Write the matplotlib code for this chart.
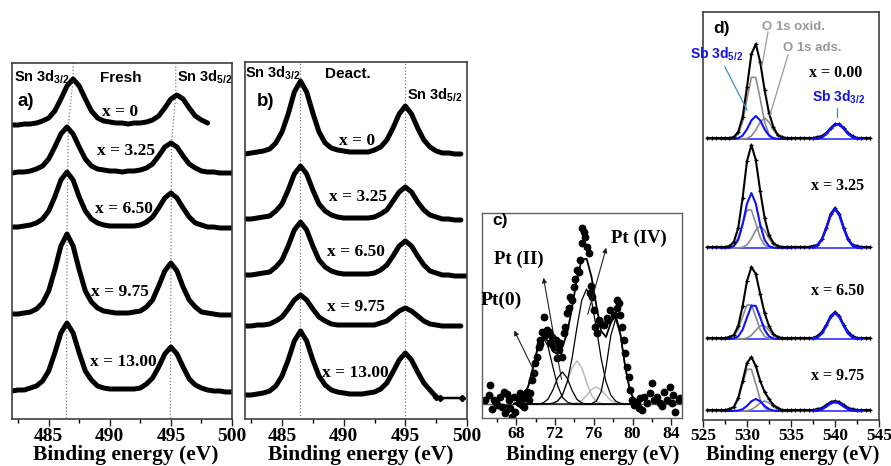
import numpy as np
import matplotlib
matplotlib.use("Agg")
import matplotlib.pyplot as plt
from matplotlib.ticker import MultipleLocator
from matplotlib.lines import Line2D

plt.rcParams['mathtext.fontset'] = 'custom'
plt.rcParams['mathtext.rm'] = 'Liberation Sans:bold'
plt.rcParams['mathtext.it'] = 'Liberation Sans:bold'
plt.rcParams['mathtext.bf'] = 'Liberation Sans:bold'
plt.rcParams['mathtext.sf'] = 'Liberation Sans:bold'
plt.rcParams['mathtext.default'] = 'rm'

# ---------------- data: panel a (Fresh) ----------------
E_ab = np.arange(482.0, 500.01, 0.5)
a_labels = ['x = 0', 'x = 3.25', 'x = 6.50', 'x = 9.75', 'x = 13.00']
a_offsets = [293, 245, 190, 102, 26]
a1 = [1, 1, 2, 2, 3, 5, 8, 15, 27, 40, 47, 40, 27, 15, 8, 5, 4, 3, 3, 2,
      3, 3, 4, 6, 10, 18, 27, 31, 27, 18, 10, 6, 3]
a2 = [1, 2, 2, 3, 5, 8, 15, 27, 40, 47, 40, 27, 15, 8, 5, 4, 3, 3, 2, 3,
      3, 4, 6, 10, 18, 27, 31, 27, 18, 10, 6, 3, 2, 2, 1, 1, 1]
a3 = [2, 2, 3, 4, 6, 10, 18, 32, 49, 57, 49, 32, 18, 10, 6, 4, 3, 3, 3, 3,
      3, 4, 7, 12, 21, 31, 36, 31, 21, 12, 6, 4, 2, 2, 1, 1, 1]
a4 = [3, 3, 4, 5, 8, 14, 26, 47, 71, 83, 71, 47, 26, 15, 9, 6, 5, 4, 4, 4,
      5, 6, 10, 17, 31, 46, 54, 46, 30, 17, 10, 5, 4, 3, 2, 2, 2]
a5 = [2, 3, 3, 5, 7, 12, 22, 40, 60, 70, 60, 40, 22, 13, 7, 5, 4, 4, 4, 4,
      4, 5, 9, 15, 26, 39, 46, 39, 26, 14, 8, 5, 3, 2, 2, 1, 1]
a_curves = [a1, a2, a3, a4, a5]
a_label_pos = [(120, 112), (126, 151), (124, 209), (120, 292), (123, 362)]
a_guide_left_E = [487.0, 487.0, 486.6, 486.5, 486.45]
a_guide_left_I = [356, 340, 292, 180, 0]
a_guide_right_E = [495.4, 495.4, 495.05, 494.95]
a_guide_right_I = [356, 324, 276, 0]

# ---------------- data: panel b (Deact.) ----------------
b_labels = ['x = 0', 'x = 3.25', 'x = 6.50', 'x = 9.75', 'x = 13.00']
b_offsets = [263, 198, 142, 92, 22]
b1 = [2, 3, 4, 5, 7, 13, 24, 42, 64, 75, 64, 43, 24, 13, 8, 6, 5, 4, 4, 4,
      4, 6, 9, 16, 28, 42, 50, 42, 28, 16, 9, 5, 3, 3, 2, 2]
b2 = [2, 2, 3, 4, 5, 10, 17, 31, 47, 55, 47, 31, 17, 10, 6, 4, 3, 3, 3, 3,
      3, 4, 7, 11, 20, 29, 34, 29, 19, 11, 6, 4, 2, 2, 1, 1]
b3 = [2, 2, 3, 4, 5, 10, 17, 31, 47, 55, 47, 31, 17, 10, 6, 4, 3, 3, 3, 3,
      3, 4, 7, 12, 21, 31, 36, 31, 21, 12, 6, 4, 2, 2, 1, 1, 1]
b4 = [1, 1, 2, 2, 3, 6, 10, 18, 27, 32, 27, 18, 10, 6, 3, 2, 2, 2, 2, 2,
      2, 2, 4, 6, 11, 16, 19, 16, 11, 6, 3, 2, 1, 1, 1, 1]
b5 = [2, 2, 3, 4, 6, 11, 21, 37, 56, 66, 56, 37, 21, 12, 7, 5, 4, 3, 3, 3,
      4, 5, 8, 14, 25, 37, 44, 37, 25, 14, 7, 0]
b5_tail_E = [497.8, 499.6]
b5_tail_I = [-1, -1]
b_curves = [b1, b2, b3, b4, b5]
b_label_pos = [(357, 141), (358, 197), (356, 252), (356, 307), (355, 373)]
b_guides_E = [486.45, 494.98]

# ---------------- data: panel c (Pt 4f) ----------------
c_grid = np.arange(67.75, 80.76, 0.5)
c_P0 = [0.4, 1.9, 6.8, 18.5, 37.8, 58.1, 67, 58.1, 37.8, 18.5, 6.8, 1.9, 0.4,
        0, 0, 0, 0, 0, 0, 0, 0, 0, 0, 0, 0, 0, 0]
c_P0b = [0, 0, 0, 0, 0, 0.2, 1.0, 4.7, 13.6, 25.8, 32, 25.8, 13.6, 4.7, 1.0,
         0.2, 0, 0, 0, 0, 0, 0, 0, 0, 0, 0, 0]
c_G1 = [0, 0, 0, 0, 0, 0, 0, 0, 0.6, 2.7, 9.0, 21.5, 36.2, 43, 36.2, 21.5,
        9.0, 2.7, 0.6, 0.1, 0, 0, 0, 0, 0, 0, 0]
c_Big = [0, 0, 0, 0, 0, 0, 0, 0.2, 0.7, 2.9, 8.9, 22.3, 45.8, 76.4, 103.8,
         115, 103.8, 76.4, 45.8, 22.3, 8.9, 2.9, 0.7, 0.2, 0, 0, 0]
c_G2 = [0, 0, 0, 0, 0, 0, 0, 0, 0, 0, 0, 0, 0.2, 1.1, 3.6, 8.5, 14.3, 17,
        14.3, 8.5, 3.6, 1.1, 0.2, 0, 0, 0, 0]
c_Last = [0, 0, 0, 0, 0, 0, 0, 0, 0, 0, 0, 0, 0, 0, 0, 0, 0.4, 2.8, 12.4,
          36.1, 68.6, 85, 68.6, 36.1, 12.4, 2.8, 0.4]
c_pts_E = [64.80, 65.14, 65.32, 65.66, 66.01, 66.35, 66.52, 66.69, 66.86, 67.04,
           67.21, 67.38, 67.55, 67.72, 67.90, 68.24, 68.41, 68.76, 68.93, 69.10,
           69.27, 69.44, 69.62, 69.79, 69.96, 70.13, 70.30, 70.48, 70.65, 70.82,
           70.99, 71.17, 71.34, 71.51, 71.68, 71.85, 72.02, 72.20, 72.37, 72.54,
           72.71, 72.88, 73.06, 73.23, 73.57, 73.74, 73.92, 74.26, 74.43, 74.60,
           74.78, 74.95, 75.12, 75.29, 75.46, 75.64, 75.81, 75.98, 76.15, 76.33,
           76.50, 76.67, 77.01, 77.36, 77.70, 78.04, 78.39, 78.56, 78.73, 78.91,
           79.08, 79.25, 79.42, 79.59, 79.76, 79.94, 80.11, 80.45, 80.62, 80.80,
           81.14, 81.49, 81.83, 82.00, 82.17, 82.52, 82.86, 83.20, 83.55, 83.89,
           84.06, 84.41, 84.75, 84.92, 74.80, 72.10, 75.70, 77.50, 78.40, 70.40,
           73.40, 74.10, 65.90, 66.90, 68.30, 68.60, 81.00, 83.00, 84.20, 65.50,
           67.00]
c_pts_I = [4, 9, 19, 4, -1, 7, -3, 12, -9, -4,
           4, -4, -13, 7, -8, 1, 11, -3, 6, 12,
           4, 11, 24, 31, 41, 47, 57, 64, 72, 87,
           69, 74, 72, 61, 67, 61, 57, 46, 54, 61,
           47, 71, 77, 91, 107, 104, 117, 134, 132, 144,
           161, 172, 167, 157, 151, 111, 107, 94, 77, 71,
           84, 81, 79, 86, 94, 89, 104, 101, 89, 77,
           64, 51, 37, 27, 14, 4, -1, 2, -4, 6,
           7, 1, 11, 21, 4, 7, 1, 12, 4, 17,
           1, -8, 4, 6, 176, 64, 118, 84, 96, 60,
           96, 125, 2, -6, 5, -1, -6, -2, 9, -5,
           10]
c_base = 14

# ---------------- data: panel d (O 1s / Sb 3d) ----------------
E_d = np.arange(525.5, 544.01, 0.5)
d_M = np.arange(527.0, 535.01, 0.5)
d_B = np.arange(537.5, 543.01, 0.5)
d_labels = ['x = 0.00', 'x = 3.25', 'x = 6.50', 'x = 9.75']
d_offsets = [281, 172, 81, 9]
d_data = [
    [1, 1, 1, 1, 1, 1, 2, 7, 22, 52, 85, 95, 77, 49, 26, 12, 4, 2, 1, 1,
     1, 1, 1, 1, 1, 2, 3, 6, 11, 15, 15, 11, 6, 3, 1, 1, 1, 1],
    [1, 1, 1, 1, 1, 2, 6, 20, 50, 87, 103, 88, 57, 30, 13, 5, 2, 1, 1, 1,
     1, 1, 1, 1, 2, 3, 9, 20, 34, 40, 34, 20, 9, 3, 2, 1, 1, 1],
    [1, 1, 1, 1, 1, 2, 4, 13, 33, 58, 72, 65, 45, 26, 13, 5, 2, 1, 1, 1,
     1, 1, 1, 1, 1, 3, 7, 14, 23, 27, 23, 14, 7, 3, 1, 1, 1, 1],
    [1, 1, 1, 1, 1, 2, 4, 13, 30, 48, 54, 45, 30, 19, 12, 6, 3, 1, 1, 1,
     1, 1, 1, 1, 1, 2, 3, 6, 9, 10, 9, 6, 3, 2, 1, 1, 1, 1],
]
d_oxid = [
    [0, 0, 0.1, 0.8, 4.7, 17.0, 40.2, 61.6, 61.6, 40.2, 17.0, 4.7, 0.8, 0.1, 0, 0, 0],
    [0, 0.1, 0.5, 2.9, 10.5, 24.7, 37.9, 37.9, 24.7, 10.5, 2.9, 0.5, 0.1, 0, 0, 0, 0],
    [0, 0.1, 0.5, 2.6, 9.4, 22.2, 34.1, 34.1, 22.2, 9.4, 2.6, 0.5, 0.1, 0, 0, 0, 0],
    [0, 0.1, 0.6, 3.2, 11.5, 27.2, 41.7, 41.7, 27.2, 11.5, 3.2, 0.6, 0.1, 0, 0, 0, 0],
]
d_sb52 = [
    [0, 0, 0, 0.1, 0.8, 3.4, 9.8, 18.6, 23, 18.6, 9.8, 3.4, 0.8, 0.1, 0, 0, 0],
    [0, 0, 0.3, 1.8, 8.0, 23.4, 44.4, 55, 44.4, 23.4, 8.0, 1.8, 0.3, 0, 0, 0, 0],
    [0, 0, 0.1, 0.5, 2.6, 9.2, 21.6, 33.2, 33.2, 21.6, 9.2, 2.6, 0.5, 0.1, 0, 0, 0],
    [0, 0, 0, 0.1, 0.4, 1.8, 5.1, 9.7, 12, 9.7, 5.1, 1.8, 0.4, 0.1, 0, 0, 0],
]
d_ads = [
    [0, 0, 0, 0, 0, 0.1, 0.7, 3.1, 8.9, 16.9, 21, 16.9, 8.9, 3.1, 0.7, 0.1, 0],
    [0, 0, 0, 0, 0.1, 0.7, 3.2, 9.4, 17.8, 22, 17.8, 9.4, 3.2, 0.7, 0.1, 0, 0],
    [0, 0, 0, 0, 0, 0.2, 1.0, 3.7, 8.7, 13.3, 13.3, 8.7, 3.7, 1.0, 0.2, 0, 0],
    [0, 0, 0, 0, 0, 0, 0.3, 1.5, 4.3, 8.1, 10, 8.1, 4.3, 1.5, 0.3, 0, 0],
]
d_sb32 = [
    [0.1, 0.5, 1.8, 5.1, 10.2, 14.4, 14.4, 10.2, 5.1, 1.8, 0.5, 0.1],
    [0.5, 2.4, 8.2, 19.5, 32.8, 39, 32.8, 19.5, 8.2, 2.4, 0.5, 0.1],
    [0.3, 1.6, 5.5, 13, 21.9, 26, 21.9, 13, 5.5, 1.6, 0.3, 0.1],
    [0.1, 0.6, 1.9, 4.5, 7.6, 9, 7.6, 4.5, 1.9, 0.6, 0.1, 0],
]
d_label_pos = [(836, 73), (838, 186), (838, 291), (838, 376)]

# ---------------- figure ----------------
W, H = 891, 466
fig = plt.figure(figsize=(W / 100, H / 100), dpi=100)

def fx(x):
    return x / W

def fy(y):
    return 1 - y / H

def box(l, t, r, b):
    return [l / W, 1 - b / H, (r - l) / W, (b - t) / H]

SANS = 'Liberation Sans'
SERIF = 'Liberation Serif'
SPINE = '#404040'

def style_axes(ax, major, minor, tick_size, pad):
    ax.set_yticks([])
    ax.xaxis.set_major_locator(MultipleLocator(major))
    ax.xaxis.set_minor_locator(MultipleLocator(minor))
    ax.tick_params(axis='x', which='major', direction='out', length=5, width=1,
                   pad=pad, labelsize=tick_size, colors='#222222')
    ax.tick_params(axis='x', which='minor', direction='out', length=3, width=1)
    for lab in ax.get_xticklabels():
        lab.set_fontfamily(SERIF)
        lab.set_fontweight('bold')
        lab.set_color('black')
    for s in ax.spines.values():
        s.set_color(SPINE)
        s.set_linewidth(1.2)

def ftext(x, y, s, **kw):
    fig.text(fx(x), fy(y), s, **kw)

# ---- panel a ----
axa = fig.add_axes(box(12, 63, 232, 419))
axa.set_xlim(482, 500)
axa.set_ylim(0, 356)
axa.plot(a_guide_left_E, a_guide_left_I, ls=':', color='#777777', lw=0.9)
axa.plot(a_guide_right_E, a_guide_right_I, ls=':', color='#777777', lw=0.9)
for vals, off in zip(a_curves, a_offsets):
    e = E_ab[:len(vals)]
    axa.plot(e, np.array(vals) + off, color='black', lw=3.6,
             solid_capstyle='round', solid_joinstyle='round')
style_axes(axa, 5, 2.5, 14, 1.5)
for lab, (x, y) in zip(a_labels, a_label_pos):
    ftext(x, y, lab, ha='center', va='center', fontfamily=SERIF,
          fontweight='bold', fontsize=12.5)
ftext(14, 82, r'Sn 3d$_{3/2}$', ha='left', va='baseline', fontfamily=SANS,
      fontweight='bold', fontsize=10.5)
ftext(100, 82, 'Fresh', ha='left', va='baseline', fontfamily=SANS,
      fontweight='bold', fontsize=11)
ftext(177, 82, r'Sn 3d$_{5/2}$', ha='left', va='baseline', fontfamily=SANS,
      fontweight='bold', fontsize=10.5)
ftext(17, 101, 'a)', ha='left', va='center', fontfamily=SANS,
      fontweight='bold', fontsize=13.5)

# ---- panel b ----
axb = fig.add_axes(box(245, 62, 467, 419))
axb.set_xlim(482, 500)
axb.set_ylim(0, 357)
for g in b_guides_E:
    axb.axvline(g, ls=':', color='#777777', lw=0.9)
for vals, off in zip(b_curves, b_offsets):
    e = E_ab[:len(vals)]
    axb.plot(e, np.array(vals) + off, color='black', lw=3.6,
             solid_capstyle='round', solid_joinstyle='round')
axb.plot([E_ab[len(b5) - 1]] + b5_tail_E,
         np.array([b5[-1]] + b5_tail_I) + b_offsets[4],
         color='black', lw=1.8, marker='D', ms=3.2)
style_axes(axb, 5, 2.5, 14, 1.5)
for lab, (x, y) in zip(b_labels, b_label_pos):
    ftext(x, y, lab, ha='center', va='center', fontfamily=SERIF,
          fontweight='bold', fontsize=12.5)
ftext(245, 78, r'Sn 3d$_{3/2}$', ha='left', va='baseline', fontfamily=SANS,
      fontweight='bold', fontsize=10.5)
ftext(325, 78, 'Deact.', ha='left', va='baseline', fontfamily=SANS,
      fontweight='bold', fontsize=11)
ftext(407, 100, r'Sn 3d$_{5/2}$', ha='left', va='baseline', fontfamily=SANS,
      fontweight='bold', fontsize=10.5)
ftext(257, 101, 'b)', ha='left', va='center', fontfamily=SANS,
      fontweight='bold', fontsize=13.5)

# ---- panel c ----
axc = fig.add_axes(box(482, 213, 682, 418))
axc.set_xlim(64.45, 85.1)
axc.set_ylim(0, 205)
axc.axhline(c_base, color='#606060', lw=1.0)
for comp in (c_G1, c_G2):
    axc.plot(c_grid, np.array(comp) + c_base, color='#b4b4b4', lw=1.0)
for comp in (c_P0, c_P0b, c_Big, c_Last):
    axc.plot(c_grid, np.array(comp) + c_base, color='black', lw=0.9)
c_env = np.sum([c_P0, c_P0b, c_G1, c_Big, c_G2, c_Last], axis=0)
axc.plot(c_grid, c_env + c_base, color='black', lw=1.3)
axc.plot(c_pts_E, np.array(c_pts_I) + c_base, 'o', color='black', ms=4.6,
         mec='black')
style_axes(axc, 4, 2, 12.5, 0.5)
for s in axc.spines.values():
    s.set_color('#606060')
    s.set_linewidth(1.0)
ftext(492, 221, 'c)', ha='left', va='center', fontfamily=SANS,
      fontweight='bold', fontsize=12.5)
ftext(639, 238, 'Pt (IV)', ha='center', va='center', fontfamily=SERIF,
      fontweight='bold', fontsize=13.5)
ftext(519, 259, 'Pt (II)', ha='center', va='center', fontfamily=SERIF,
      fontweight='bold', fontsize=13.5)
ftext(501, 300, 'Pt(0)', ha='center', va='center', fontfamily=SERIF,
      fontweight='bold', fontsize=14)
for (x0, y0), (x1, y1) in [((537, 377), (513, 328)),
                           ((562, 382), (543, 275)),
                           ((587, 317), (607, 245))]:
    fig.add_artist(matplotlib.patches.FancyArrowPatch(
        (fx(x0), fy(y0)), (fx(x1), fy(y1)), transform=fig.transFigure,
        arrowstyle='-|>', mutation_scale=7, lw=0.8, color='#222222'))

# ---- panel d ----
axd = fig.add_axes(box(703, 12, 879, 420))
axd.set_xlim(525, 545)
axd.set_ylim(0, 408)
for i, off in enumerate(d_offsets):
    axd.hlines(off, E_d[0], E_d[-1], color='#2020ff', lw=1.1)
    axd.plot(d_M, np.array(d_oxid[i]) + off, color='#8c8c8c', lw=1.2)
    axd.plot(d_M, np.array(d_ads[i]) + off, color='#8c8c8c', lw=1.2)
    axd.plot(d_M, np.array(d_sb52[i]) + off, color='#1010ff', lw=1.5)
    axd.plot(E_d, np.array(d_data[i]) + off, color='black', lw=1.5,
             marker='+', ms=3.5, mew=0.9)
    axd.plot(d_B, np.array(d_sb32[i]) + off, color='#1010ff', lw=1.8)
style_axes(axd, 5, 2.5, 12.5, 1.0)
for lab, (x, y) in zip(d_labels, d_label_pos):
    ftext(x, y, lab, ha='center', va='center', fontfamily=SERIF,
          fontweight='bold', fontsize=11.5)
ftext(713, 29, 'd)', ha='left', va='center', fontfamily=SANS,
      fontweight='bold', fontsize=12.5)
ftext(762, 27, 'O 1s oxid.', ha='left', va='center', fontfamily=SANS,
      fontweight='bold', fontsize=9.5, color='#999999')
ftext(783, 48, 'O 1s ads.', ha='left', va='center', fontfamily=SANS,
      fontweight='bold', fontsize=9.5, color='#999999')
ftext(690, 59, r'Sb 3d$_{5/2}$', ha='left', va='baseline', fontfamily=SANS,
      fontweight='bold', fontsize=10, color='#1515e0')
ftext(812, 102, r'Sb 3d$_{3/2}$', ha='left', va='baseline', fontfamily=SANS,
      fontweight='bold', fontsize=10, color='#1515e0')
for (x0, y0), (x1, y1), col in [((768, 32), (762, 66), '#999999'),
                                ((788, 55), (770, 115), '#999999'),
                                ((725, 67), (747, 110), '#3a8fd0'),
                                ((837, 108), (837, 117), '#3a8fd0')]:
    fig.add_artist(Line2D([fx(x0), fx(x1)], [fy(y0), fy(y1)],
                          transform=fig.transFigure, color=col, lw=0.9))

# ---- x labels ----
for xc in (126, 361, 593, 793):
    size = 15.5 if xc < 400 else 14.5
    ftext(xc, 460, 'Binding energy (eV)', ha='center', va='baseline',
          fontfamily=SERIF, fontweight='bold', fontsize=size)

fig.savefig('out.png', dpi=100)
